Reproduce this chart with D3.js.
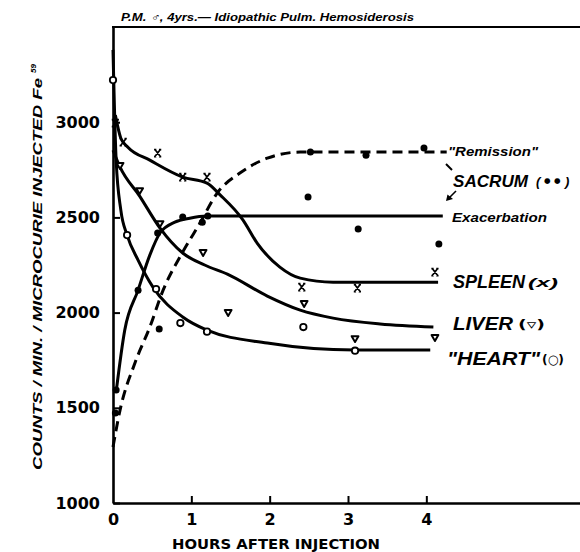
<!DOCTYPE html>
<html><head><meta charset="utf-8">
<script src="https://cdn.jsdelivr.net/npm/d3@7"></script>
<style>html,body{margin:0;padding:0;background:#fff}</style>
</head><body>
<svg id="c" width="580" height="552"></svg>
<script>
// ---- data ----
const xTicks = [0, 1, 2, 3, 4];
const yTicks = [1000, 1500, 2000, 2500, 3000];

// HEART (open circles)
const heartHours  = [0, 0.18, 0.55, 0.86, 1.2, 2.43, 3.09];
const heartCounts = [3221, 2407, 2124, 1945, 1900, 1924, 1800];
const heartCurveHours  = [0, 0.04, 0.10, 0.18, 0.32, 0.51, 0.89, 1.2, 1.97, 3.09, 4.05];
const heartCurveCounts = [3380, 2801, 2538, 2407, 2276, 2134, 1977, 1908, 1840, 1803, 1803];

// LIVER (triangles)
const liverHours  = [0.09, 0.34, 0.60, 1.15, 1.47, 2.44, 3.09, 4.11];
const liverCounts = [2775, 2643, 2470, 2318, 2003, 2050, 1866, 1872];
const liverCurveHours  = [0, 0.09, 0.34, 0.60, 0.89, 1.17, 1.46, 1.97, 2.39, 2.81, 3.41, 4.09];
const liverCurveCounts = [2853, 2764, 2612, 2444, 2313, 2250, 2202, 2087, 2013, 1971, 1940, 1924];

// SPLEEN (x)
const spleenHours  = [0.03, 0.13, 0.57, 0.89, 1.20, 2.41, 3.12, 4.11];
const spleenCounts = [2995, 2895, 2838, 2712, 2712, 2134, 2129, 2213];
const spleenCurveHours  = [0.03, 0.10, 0.19, 0.47, 0.89, 1.20, 1.37, 1.66, 1.84, 2.13, 2.39, 2.81, 4.15];
const spleenCurveCounts = [3037, 2916, 2869, 2801, 2712, 2680, 2617, 2486, 2365, 2239, 2181, 2160, 2160];

// SACRUM exacerbation (solid) and remission (dashed)
const exacHours  = [0.04, 0.32, 0.57, 0.89, 1.21, 2.49, 3.13, 4.16];
const exacCounts = [1593, 2118, 2418, 2502, 2507, 2607, 2439, 2360];
const exacCurveHours  = [0.04, 0.15, 0.32, 0.47, 0.60, 0.79, 0.98, 1.2, 4.21];
const exacCurveCounts = [1583, 1908, 2118, 2302, 2418, 2475, 2496, 2507, 2507];

const remHours  = [0.03, 0.59, 1.14, 2.52, 3.23, 3.97];
const remCounts = [1473, 1914, 2475, 2843, 2827, 2864];
const remCurveHours  = [0, 0.09, 0.28, 0.47, 0.64, 0.89, 1.11, 1.33, 1.62, 1.97, 2.39, 4.26];
const remCurveCounts = [1294, 1488, 1735, 1924, 2118, 2318, 2470, 2628, 2733, 2811, 2843, 2843];

// ---- drawing ----
const svg = d3.select('#c');
const x = d3.scaleLinear().domain([0, 6]).range([113, 583]);
const y = d3.scaleLinear().domain([1000, 3500]).range([503, 27]);
const FONT = "'Liberation Sans', Arial, sans-serif";

const zip = (a, b) => a.map((v, i) => [v, b[i]]);
const line = d3.line().x(d => x(d[0])).y(d => y(d[1])).curve(d3.curveMonotoneX);

// axes
const yAxis = d3.axisLeft(y).tickValues(yTicks).tickSize(-7).tickSizeOuter(0).tickPadding(13)
  .tickFormat(d3.format('d'));
const gy = svg.append('g').attr('transform', `translate(${x(0)},0)`).call(yAxis);
const xAxis = d3.axisBottom(x).tickValues(xTicks).tickSize(-7).tickSizeOuter(0).tickPadding(11)
  .tickFormat(d3.format('d'));
const gx = svg.append('g').attr('transform', `translate(0,${y(1000)})`).call(xAxis);
[gx, gy].forEach(g => {
  g.select('.domain').attr('stroke', '#000').attr('stroke-width', 2.6);
  g.selectAll('.tick line').attr('stroke', '#000').attr('stroke-width', 2);
  g.selectAll('.tick text').attr('fill', '#000').style('font-family', "'DejaVu Sans', sans-serif")
    .style('font-size', '16px').style('font-weight', 'bold');
});
gx.selectAll('.tick').filter(d => d === 0).select('line').remove();
// top frame line
svg.append('line').attr('x1', x(0) - 1).attr('x2', 580).attr('y1', y(3500)).attr('y2', y(3500))
  .attr('stroke', '#000').attr('stroke-width', 2);

// curves
const curves = [
  [heartCurveHours, heartCurveCounts, null],
  [liverCurveHours, liverCurveCounts, null],
  [spleenCurveHours, spleenCurveCounts, null],
  [exacCurveHours, exacCurveCounts, null],
  [remCurveHours, remCurveCounts, '10,6']
];
curves.forEach(([h, c, dash]) => {
  svg.append('path').datum(zip(h, c)).attr('d', line).attr('fill', 'none')
    .attr('stroke', '#000').attr('stroke-width', 3).attr('stroke-linecap', 'butt')
    .attr('stroke-dasharray', dash);
});

// markers
svg.append('g').selectAll('circle').data(zip(heartHours, heartCounts)).join('circle')
  .attr('cx', d => x(d[0])).attr('cy', d => y(d[1])).attr('r', 3.2)
  .attr('fill', '#fff').attr('stroke', '#000').attr('stroke-width', 1.8);
const tri = d3.symbol().type(d3.symbolTriangle).size(20);
svg.append('g').selectAll('path').data(zip(liverHours, liverCounts)).join('path')
  .attr('d', tri).attr('transform', d => `translate(${x(d[0])},${y(d[1])}) rotate(180)`)
  .attr('fill', '#fff').attr('stroke', '#000').attr('stroke-width', 2).attr('stroke-linejoin', 'round');
svg.append('g').selectAll('path').data(zip(spleenHours, spleenCounts)).join('path')
  .attr('d', 'M-2.7,-3.5L2.7,3.5M2.7,-3.5L-2.7,3.5M-3.6,-3.5H-1.3M1.3,-3.5H3.6M-3.6,3.5H-1.3M1.3,3.5H3.6')
  .attr('transform', d => `translate(${x(d[0])},${y(d[1])})`)
  .attr('fill', 'none').attr('stroke', '#000').attr('stroke-width', 1.7);
svg.append('g').selectAll('circle').data(zip(exacHours, exacCounts).concat(zip(remHours, remCounts))).join('circle')
  .attr('cx', d => x(d[0])).attr('cy', d => y(d[1])).attr('r', 3.5).attr('fill', '#000');

// texts
function txt(s, xx, yy, size, opts = {}) {
  const t = svg.append('text').attr('x', xx).attr('y', yy).text(s)
    .style('font-family', opts.family || FONT).style('font-size', size + 'px')
    .style('font-weight', opts.weight || 'bold').style('font-style', opts.style || 'italic')
    .attr('fill', '#000');
  if (opts.len) t.attr('textLength', opts.len).attr('lengthAdjust', 'spacingAndGlyphs');
  if (opts.anchor) t.attr('text-anchor', opts.anchor);
  return t;
}
txt('P.M. ♂, 4yrs.— Idiopathic Pulm. Hemosiderosis', 121, 21, 10.5, { len: 293 });
txt('"Remission"', 448, 156, 12.5, { len: 90 });
txt('SACRUM', 453, 187, 17, { len: 75 });
txt('(', 536, 186, 13);
txt('●', 544, 183, 7.5, { style: 'normal', family: "'DejaVu Sans', sans-serif" });
txt('●', 554, 183, 7.5, { style: 'normal', family: "'DejaVu Sans', sans-serif" });
txt(')', 565, 186, 13);
txt('Exacerbation', 452, 222, 12.5, { len: 95 });
txt('SPLEEN', 453, 288, 18, { len: 72 });
txt('(x)', 528, 287, 13, { len: 30 });
txt('LIVER', 453, 330, 18, { len: 60 });
txt('(▿)', 518, 329, 13, { len: 27, weight: 'bold', style: 'normal', family: "'DejaVu Sans', sans-serif" });
txt('"HEART"', 447, 365, 18, { len: 93 });
txt('(○)', 542, 364, 13, { len: 22, style: 'normal', family: "'DejaVu Sans', sans-serif" });
txt('HOURS AFTER INJECTION', 172, 549, 14, { len: 208, style: 'normal', family: "'DejaVu Sans', sans-serif" });

// y axis title (rotated)
const yl = svg.append('g').attr('transform', 'translate(42,470) rotate(-90)');
yl.append('text').attr('x', 0).attr('y', 0).text('COUNTS / MIN. / MICROCURIE INJECTED Fe')
  .style('font-family', FONT).style('font-size', '13.5px').style('font-weight', 'bold').style('font-style', 'italic')
  .attr('textLength', 392).attr('lengthAdjust', 'spacingAndGlyphs');
yl.append('text').attr('x', 397).attr('y', -6).text('59')
  .style('font-family', FONT).style('font-size', '8px').style('font-weight', 'bold').style('font-style', 'italic');

// pointer marks from SACRUM label
svg.append('path').attr('d', 'M446,164L452,170').attr('stroke', '#000').attr('stroke-width', 2).attr('fill', 'none');
svg.append('path').attr('d', 'M456,191L448,199').attr('stroke', '#000').attr('stroke-width', 1.6).attr('fill', 'none');
svg.append('path').attr('d', 'M446,201L447.5,194.5L453,199Z').attr('fill', '#000');
</script>
</body></html>
